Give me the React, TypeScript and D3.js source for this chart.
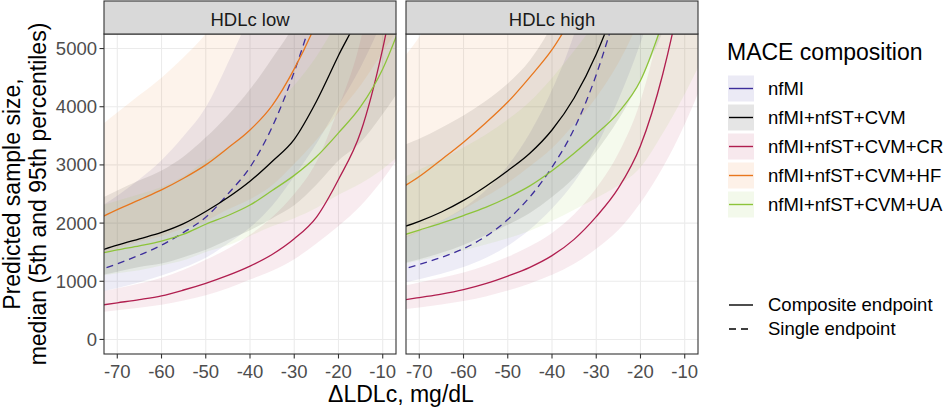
import React from 'react';
import * as d3 from 'd3';

// ---------- data ----------
const xVals = [-75, -70, -65, -60, -55, -50, -45, -40, -35, -30, -25, -20, -15, -10, -5];
const xTicks = [-70, -60, -50, -40, -30, -20, -10];
const yTicks = [0, 1000, 2000, 3000, 4000, 5000];
const panelNames = ['HDLc low', 'HDLc high'];
const seriesNames = ['nfMI', 'nfMI+nfST+CVM', 'nfMI+nfST+CVM+CR', 'nfMI+nfST+CVM+HF', 'nfMI+nfST+CVM+UA'];
const seriesColors = ['#3c2d9b', '#000000', '#b01e4f', '#e8771e', '#8dc43a'];
const seriesDashed = [true, false, false, false, false];
const endpointNames = ['Composite endpoint', 'Single endpoint'];

// HDLc low
const lowMed_nfMI = [1170, 1300, 1450, 1620, 1840, 2100, 2500, 2960, 3650, 4600, 5800, 7300, 9000, 11000, 13500];
const lowLo_nfMI = [795, 885, 985, 1100, 1235, 1405, 1650, 1925, 2300, 2805, 3365, 4015, 4680, 5500, 6480];
const lowHi_nfMI = [2225, 2470, 2755, 3080, 3495, 3990, 4750, 5625, 6935, 8740, 11020, 13870, 17100, 20900, 25650];

const lowMed_CVM = [1500, 1620, 1730, 1840, 1990, 2200, 2440, 2720, 3060, 3440, 4090, 4880, 5650, 6800, 8200];
const lowLo_CVM = [1080, 1165, 1245, 1305, 1415, 1540, 1710, 1875, 2080, 2305, 2660, 3075, 3390, 3875, 4430];
const lowHi_CVM = [2370, 2560, 2735, 2905, 3145, 3475, 3855, 4300, 4835, 5435, 6460, 7710, 8930, 10740, 12960];

const lowMed_CR = [575, 630, 685, 750, 850, 965, 1100, 1260, 1460, 1730, 2100, 2750, 3560, 5000, 7000];
const lowLo_CR = [460, 500, 545, 595, 670, 760, 880, 1030, 1180, 1380, 1650, 1950, 2300, 2750, 3300];
const lowHi_CR = [800, 880, 960, 1060, 1200, 1370, 1560, 1800, 2100, 2500, 3050, 3980, 5150, 7200, 10000];

const lowMed_HF = [2050, 2230, 2400, 2570, 2770, 3000, 3290, 3600, 4020, 4650, 5450, 6500, 7800, 9500, 11500];
const lowLo_HF = [1435, 1560, 1680, 1775, 1910, 2040, 2235, 2410, 2650, 3020, 3430, 3900, 4370, 4940, 5520];
const lowHi_HF = [3590, 3900, 4200, 4500, 4850, 5250, 5760, 6300, 7035, 8140, 9540, 11380, 13650, 16630, 20130];

const lowMed_UA = [1460, 1540, 1610, 1690, 1810, 1980, 2130, 2310, 2560, 2820, 3140, 3550, 4000, 4650, 5600];
const lowLo_UA = [1080, 1140, 1190, 1270, 1360, 1505, 1620, 1780, 1945, 2085, 2260, 2485, 2680, 2930, 3250];
const lowHi_UA = [2265, 2385, 2495, 2620, 2805, 3070, 3300, 3580, 3970, 4370, 4865, 5500, 6200, 7210, 8680];

// HDLc high
const highMed_nfMI = [1180, 1290, 1410, 1560, 1770, 2060, 2450, 2960, 3620, 4550, 5800, 7400, 9400, 12000, 15000];
const highLo_nfMI = [950, 1035, 1130, 1245, 1400, 1610, 1890, 2250, 2700, 3320, 4120, 5100, 6300, 7800, 9600];
const highHi_nfMI = [1710, 1870, 2045, 2260, 2565, 2985, 3550, 4290, 5250, 6600, 8410, 10730, 13630, 17400, 21750];

const highMed_CVM = [1900, 2030, 2190, 2390, 2630, 2900, 3200, 3600, 4150, 4900, 5900, 7200, 8800, 10800, 13000];
const highLo_CVM = [1290, 1380, 1490, 1625, 1790, 1970, 2175, 2450, 2780, 3230, 3780, 4460, 5280, 6260, 7280];
const highHi_CVM = [3300, 3450, 3640, 3850, 4100, 4400, 4800, 5400, 6200, 7300, 8800, 10700, 13000, 16000, 19200];

const highMed_CR = [660, 720, 780, 857, 960, 1090, 1240, 1440, 1720, 2110, 2600, 3330, 4550, 6300, 8600];
const highLo_CR = [505, 550, 600, 660, 740, 840, 960, 1110, 1300, 1560, 1880, 2350, 2950, 3700, 4600];
const highHi_CR = [900, 980, 1060, 1150, 1270, 1420, 1600, 1830, 2150, 2600, 3200, 4100, 5600, 7800, 10700];

const highMed_HF = [2560, 2800, 3090, 3390, 3720, 4080, 4510, 4980, 5600, 6300, 7200, 8400, 9900, 11800, 14000];
const highLo_HF = [1690, 1850, 2040, 2240, 2455, 2690, 2975, 3285, 3700, 4160, 4750, 5540, 6530, 7790, 9240];
const highHi_HF = [4700, 5200, 5800, 6400, 7000, 7700, 8500, 9400, 10500, 11800, 13400, 15500, 18000, 21300, 25000];

const highMed_UA = [1760, 1880, 2000, 2130, 2270, 2440, 2640, 2900, 3200, 3530, 3900, 4450, 5450, 6700, 8200];
const highLo_UA = [1270, 1355, 1440, 1530, 1630, 1740, 1870, 2040, 2230, 2430, 2650, 2960, 3540, 4220, 4990];
const highHi_UA = [2730, 2915, 3100, 3300, 3520, 3780, 4090, 4495, 4960, 5470, 6045, 6900, 8450, 10385, 12710];

const panelData = [
  {
    med: [lowMed_nfMI, lowMed_CVM, lowMed_CR, lowMed_HF, lowMed_UA],
    lo: [lowLo_nfMI, lowLo_CVM, lowLo_CR, lowLo_HF, lowLo_UA],
    hi: [lowHi_nfMI, lowHi_CVM, lowHi_CR, lowHi_HF, lowHi_UA],
  },
  {
    med: [highMed_nfMI, highMed_CVM, highMed_CR, highMed_HF, highMed_UA],
    lo: [highLo_nfMI, highLo_CVM, highLo_CR, highLo_HF, highLo_UA],
    hi: [highHi_nfMI, highHi_CVM, highHi_CR, highHi_HF, highHi_UA],
  },
];

// ---------- layout ----------
const W = 948;
const H = 410;
const FONT = '"Liberation Sans", Arial, Helvetica, sans-serif';
const panelLefts = [104, 406];
const panelW = 292;
const stripTop = 1;
const panelTop = 34;
const panelBottom = 354;
const dash = '7,5';

export default function App() {
  const y = d3.scaleLinear().domain([-250, 5250]).range([panelBottom, panelTop]);

  return (
    <svg
      width={W}
      height={H}
      style={{ position: 'absolute', left: 0, top: 0, background: '#fff' }}
      fontFamily={FONT}
    >
      <rect x={0} y={0} width={W} height={H} fill="#fff" />
      <defs>
        {panelLefts.map((px, pi) => (
          <clipPath id={`clip${pi}`} key={pi}>
            <rect x={px} y={panelTop} width={panelW} height={panelBottom - panelTop} />
          </clipPath>
        ))}
      </defs>

      {panelLefts.map((px, pi) => {
        const x = d3.scaleLinear().domain([-73, -7]).range([px, px + panelW]);
        const pd = panelData[pi];
        const area = (lo: number[], hi: number[]) =>
          d3
            .area<number>()
            .x((_, i) => x(xVals[i]))
            .y0((_, i) => y(lo[i]))
            .y1((_, i) => y(hi[i]))
            .curve(d3.curveMonotoneX)(xVals);
        const line = (m: number[]) =>
          d3
            .line<number>()
            .x((_, i) => x(xVals[i]))
            .y((_, i) => y(m[i]))
            .curve(d3.curveMonotoneX)(xVals);
        return (
          <g key={pi}>
            {xTicks.map((t) => (
              <line key={'gx' + t} x1={x(t)} x2={x(t)} y1={panelTop} y2={panelBottom} stroke="#ebebeb" strokeWidth={1.1} />
            ))}
            {yTicks.map((t) => (
              <line key={'gy' + t} x1={px} x2={px + panelW} y1={y(t)} y2={y(t)} stroke="#ebebeb" strokeWidth={1.1} />
            ))}
            <g clipPath={`url(#clip${pi})`}>
              {seriesNames.map((s, si) => (
                <path key={'r' + si} d={area(pd.lo[si], pd.hi[si]) || ''} fill={seriesColors[si]} fillOpacity={0.09} stroke="none" />
              ))}
              {seriesNames.map((s, si) => (
                <path
                  key={'l' + si}
                  d={line(pd.med[si]) || ''}
                  fill="none"
                  stroke={seriesColors[si]}
                  strokeWidth={1.3}
                  strokeDasharray={seriesDashed[si] ? dash : undefined}
                />
              ))}
            </g>
            <rect x={px} y={panelTop} width={panelW} height={panelBottom - panelTop} fill="none" stroke="#333333" strokeWidth={1.1} />
            <rect x={px} y={stripTop} width={panelW} height={panelTop - stripTop} fill="#d9d9d9" stroke="#333333" strokeWidth={1.1} />
            <text x={px + panelW / 2} y={26} textAnchor="middle" fontSize={18.5} fill="#1a1a1a">
              {panelNames[pi]}
            </text>
            {xTicks.map((t) => (
              <g key={'xt' + t}>
                <line x1={x(t)} x2={x(t)} y1={panelBottom} y2={panelBottom + 4.5} stroke="#333333" strokeWidth={1.1} />
                <text x={x(t)} y={378} textAnchor="middle" fontSize={18.5} fill="#4d4d4d">
                  {t}
                </text>
              </g>
            ))}
            {pi === 0 &&
              yTicks.map((t) => (
                <g key={'yt' + t}>
                  <line x1={px - 4.5} x2={px} y1={y(t)} y2={y(t)} stroke="#333333" strokeWidth={1.1} />
                  <text x={97} y={y(t)} dy="0.35em" textAnchor="end" fontSize={18.5} fill="#4d4d4d">
                    {t}
                  </text>
                </g>
              ))}
          </g>
        );
      })}

      <text x={401} y={402} textAnchor="middle" fontSize={23} fill="#000">
        ΔLDLc, mg/dL
      </text>
      <g transform={`translate(0, ${(panelTop + panelBottom) / 2}) rotate(-90)`}>
        <text x={0} y={20} textAnchor="middle" fontSize={23} fill="#000">
          Predicted sample size,
        </text>
        <text x={0} y={46} textAnchor="middle" fontSize={23} fill="#000">
          median (5th and 95th percentiles)
        </text>
      </g>

      <text x={727} y={60} fontSize={23} fill="#000">
        MACE composition
      </text>
      {seriesNames.map((s, si) => {
        const cy = 88.5 + si * 29;
        return (
          <g key={'lg' + si}>
            <rect x={728} y={cy - 13} width={26} height={26} fill={seriesColors[si]} fillOpacity={0.1} />
            <line x1={729} x2={753} y1={cy} y2={cy} stroke={seriesColors[si]} strokeWidth={1.4} />
            <text x={768} y={cy} dy="0.35em" fontSize={18.5} fill="#000">
              {s}
            </text>
          </g>
        );
      })}

      {endpointNames.map((s, i) => {
        const cy = 305 + i * 24;
        return (
          <g key={'le' + i}>
            <line x1={729} x2={753} y1={cy} y2={cy} stroke="#000" strokeWidth={1.4} strokeDasharray={i === 1 ? dash : undefined} />
            <text x={768} y={cy} dy="0.35em" fontSize={18.5} fill="#000">
              {s}
            </text>
          </g>
        );
      })}
    </svg>
  );
}
